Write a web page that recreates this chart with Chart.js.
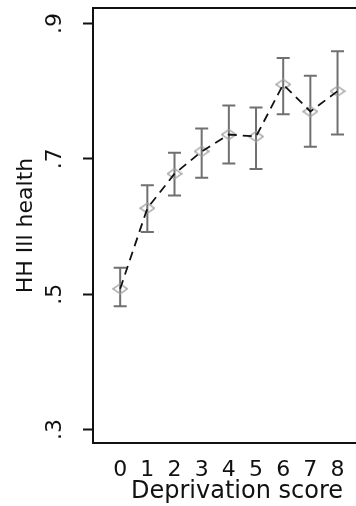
<!DOCTYPE html>
<html>
<head>
<meta charset="utf-8">
<script src="https://cdn.jsdelivr.net/npm/chart.js@4"></script>
<style>
    html, body { margin: 0; padding: 0; background: #fff; }
    .wrap { width: 356px; height: 506px; overflow: hidden; }
</style>
</head>
<body>
<div class="wrap">
    <canvas id="health-chart" width="386" height="506"></canvas>
</div>
<script>
// Deprivation score categories and mean ill health with confidence limits
const scores = [0, 1, 2, 3, 4, 5, 6, 7, 8];
const meanHealth = [0.508, 0.627, 0.678, 0.711, 0.736, 0.733, 0.810, 0.770, 0.800];
const upperCI = [0.539, 0.661, 0.709, 0.745, 0.779, 0.776, 0.849, 0.823, 0.859];
const lowerCI = [0.482, 0.592, 0.646, 0.672, 0.693, 0.685, 0.766, 0.718, 0.736];
const yTickValues = [0.3, 0.5, 0.7, 0.9];
const yTickLabels = ['.3', '.5', '.7', '.9'];

const FONT = 'DejaVu Sans';

// Hollow diamond marker
function makeDiamond() {
    const c = document.createElement('canvas');
    c.width = 16;
    c.height = 12;
    const g = c.getContext('2d');
    g.strokeStyle = '#a0a0a0';
    g.lineWidth = 1.4;
    g.beginPath();
    g.moveTo(8, 1);
    g.lineTo(15, 6);
    g.lineTo(8, 11);
    g.lineTo(1, 6);
    g.closePath();
    g.stroke();
    return c;
}

// Vertical error bars with caps, under the datasets
const errorBars = {
    id: 'errorBars',
    beforeDatasetsDraw: (chart) => {
        const { ctx, scales: { x, y } } = chart;
        ctx.save();
        ctx.strokeStyle = '#707070';
        ctx.lineWidth = 2;
        scores.forEach((s, i) => {
            const px = x.getPixelForValue(s);
            const top = y.getPixelForValue(upperCI[i]);
            const bot = y.getPixelForValue(lowerCI[i]);
            ctx.beginPath();
            ctx.moveTo(px, top);
            ctx.lineTo(px, bot);
            ctx.moveTo(px - 6.5, top);
            ctx.lineTo(px + 6.5, top);
            ctx.moveTo(px - 6.5, bot);
            ctx.lineTo(px + 6.5, bot);
            ctx.stroke();
        });
        ctx.restore();
    }
};

// Box round the plot area
const frame = {
    id: 'frame',
    afterDraw: (chart) => {
        const { ctx, chartArea: { left, top, width, height } } = chart;
        ctx.save();
        ctx.strokeStyle = '#111';
        ctx.lineWidth = 2;
        ctx.strokeRect(left, top, width, height);
        ctx.restore();
    }
};

const points = scores.map((s, i) => ({ x: s, y: meanHealth[i] }));

const ctx = document.getElementById('health-chart').getContext('2d');
new Chart(ctx, {
    type: 'line',
    data: {
        datasets: [
            {
                label: 'Mean',
                data: points,
                showLine: false,
                pointStyle: makeDiamond(),
                order: 2,
            },
            {
                label: 'Trend',
                data: points,
                borderColor: '#111',
                borderWidth: 1.8,
                borderDash: [9, 6],
                pointRadius: 0,
                fill: false,
                tension: 0,
                order: 1,
            }
        ]
    },
    options: {
        responsive: false,
        animation: false,
        layout: { padding: { top: 8, right: 3, left: 0, bottom: 0 } },
        plugins: {
            legend: { display: false },
            tooltip: { enabled: false },
        },
        scales: {
            x: {
                type: 'linear',
                min: -1,
                max: 9.6,
                grid: { display: false },
                border: { display: false },
                afterBuildTicks: (scale) => {
                    scale.ticks = scores.map(v => ({ value: v }));
                },
                afterFit: (scale) => {
                    scale.height = 63;
                    scale.paddingLeft = 0;
                    scale.paddingRight = 0;
                },
                ticks: {
                    color: '#111',
                    padding: 6,
                    maxRotation: 0,
                    autoSkip: false,
                    font: { family: FONT, size: 22 },
                    callback: (v) => String(v),
                },
                title: {
                    display: true,
                    text: 'Deprivation score',
                    color: '#111',
                    font: { family: FONT, size: 24 },
                    padding: { top: 0, bottom: 0 },
                },
            },
            y: {
                type: 'linear',
                min: 0.28,
                max: 0.923,
                grid: {
                    drawOnChartArea: false,
                    drawTicks: true,
                    tickLength: 10,
                    tickColor: '#111',
                    tickWidth: 2,
                },
                border: { display: false },
                afterBuildTicks: (scale) => {
                    scale.ticks = yTickValues.map(v => ({ value: v }));
                },
                afterFit: (scale) => {
                    scale.width = 93;
                    scale.paddingTop = 0;
                    scale.paddingBottom = 0;
                },
                ticks: {
                    color: '#111',
                    padding: 17,
                    minRotation: 90,
                    maxRotation: 90,
                    crossAlign: 'center',
                    font: { family: FONT, size: 22 },
                    callback: (v) => yTickLabels[yTickValues.indexOf(v)],
                },
                title: {
                    display: true,
                    text: 'HH Ill health',
                    color: '#111',
                    font: { family: FONT, size: 22 },
                    padding: { top: 13, bottom: 0 },
                },
            }
        }
    },
    plugins: [errorBars, frame]
});
</script>
</body>
</html>
